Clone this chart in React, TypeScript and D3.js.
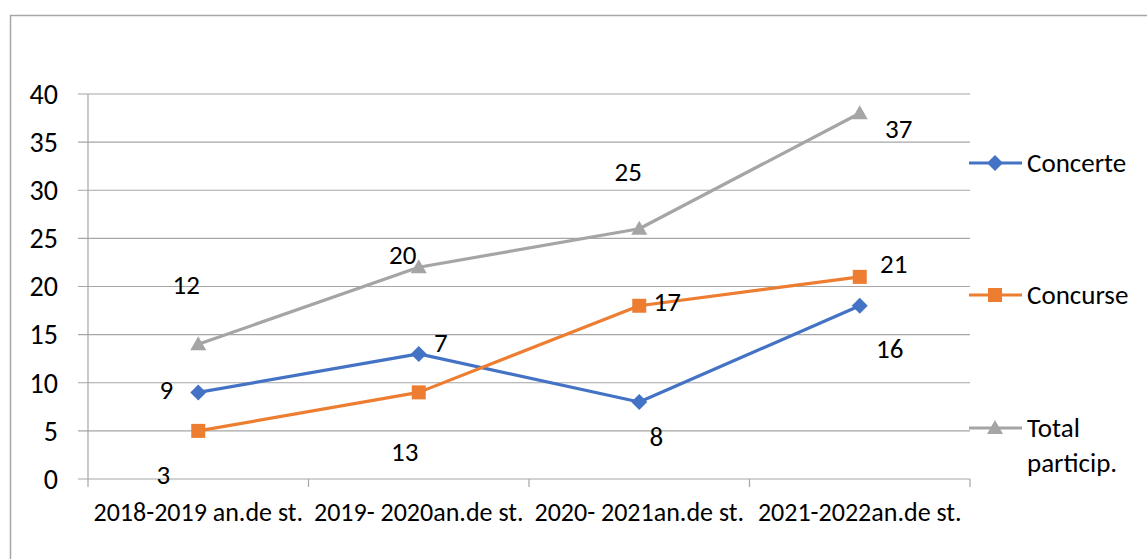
import * as d3 from "d3";

const categories = [
  "2018-2019 an.de st.",
  "2019- 2020an.de st.",
  "2020- 2021an.de st.",
  "2021-2022an.de st.",
];
const seriesNames = ["Concerte", "Concurse", "Total particip."];
const concerte = [9, 13, 8, 18];
const concurse = [5, 9, 18, 21];
const total = [14, 22, 26, 38];
// data labels as printed on the chart (they differ from the plotted points)
const concerteLabels = ["9", "7", "8", "16"];
const concurseLabels = ["3", "13", "17", "21"];
const totalLabels = ["12", "20", "25", "37"];
const yTicks = [0, 5, 10, 15, 20, 25, 30, 35, 40];

const colors = ["#4472C4", "#ED7D31", "#A5A5A5"];
const labelOffsets = [
  [[-32, -3], [22, -11], [17, 35], [30, 43]],
  [[-35, 44], [-14, 59], [28, -4], [34, -13]],
  [[-12, -60], [-16, -13], [-11, -57], [39, 15]],
];

const W = 1147;
const H = 559;
const left = 88;
const right = 970;
const top = 94;
const bottom = 479;
const font = "Calibri, Carlito, 'Open Sans', sans-serif";

function Marker({ kind, x, y, color }: { kind: number; x: number; y: number; color: string }) {
  if (kind === 0) {
    const s = 8;
    return <path d={`M${x},${y - s}L${x + s},${y}L${x},${y + s}L${x - s},${y}Z`} fill={color} />;
  }
  if (kind === 1) {
    return <rect x={x - 7} y={y - 7} width={14} height={14} fill={color} />;
  }
  const s = 8;
  return <path d={`M${x},${y - s}L${x + s},${y + s * 0.75}L${x - s},${y + s * 0.75}Z`} fill={color} />;
}

export default function App() {
  const x = d3.scaleBand().domain(categories).range([left, right]);
  const y = d3.scaleLinear().domain([0, 40]).range([bottom, top]);
  const series = [concerte, concurse, total];
  const labels = [concerteLabels, concurseLabels, totalLabels];
  const line = d3
    .line<number>()
    .x((_, i) => x(categories[i])! + x.bandwidth() / 2)
    .y((d) => y(d));
  const legendY = [163, 295, 428];

  return (
    <svg width={W} height={H} style={{ position: "absolute", left: 0, top: 0 }} fontFamily={font}>
      <rect x={0} y={0} width={W} height={H} fill="#fff" />
      <rect x={10.5} y={15.5} width={1140} height={560} fill="none" stroke="#a6a6a6" strokeWidth={1.5} />
      {yTicks.map((t) => (
        <g key={t}>
          <line x1={78} x2={right} y1={y(t)} y2={y(t)} stroke="#a6a6a6" strokeWidth={1.2} />
          <text x={58} y={y(t)} dy="0.35em" textAnchor="end" fontSize={28} fill="#000">
            {t}
          </text>
        </g>
      ))}
      <line x1={left} x2={left} y1={top} y2={bottom + 8} stroke="#a6a6a6" strokeWidth={1.2} />
      {categories.map((c, i) => (
        <line
          key={"t" + i}
          x1={x(c)! + x.bandwidth()}
          x2={x(c)! + x.bandwidth()}
          y1={bottom}
          y2={bottom + 8}
          stroke="#a6a6a6"
          strokeWidth={1.2}
        />
      ))}
      {categories.map((c) => (
        <text key={c} x={x(c)! + x.bandwidth() / 2} y={512} dy="0.35em" textAnchor="middle" fontSize={26} fill="#000">
          {c}
        </text>
      ))}
      {series.map((s, si) => (
        <g key={si}>
          <path d={line(s) || undefined} fill="none" stroke={colors[si]} strokeWidth={3.2} strokeLinejoin="round" />
          {s.map((v, i) => (
            <Marker
              key={i}
              kind={si}
              x={x(categories[i])! + x.bandwidth() / 2}
              y={y(v)}
              color={colors[si]}
            />
          ))}
        </g>
      ))}
      {series.map((s, si) =>
        s.map((v, i) => (
          <text
            key={`l${si}-${i}`}
            x={x(categories[i])! + x.bandwidth() / 2 + labelOffsets[si][i][0]}
            y={y(v) + labelOffsets[si][i][1]}
            dy="0.35em"
            textAnchor="middle"
            fontSize={27}
            fill="#000"
          >
            {labels[si][i]}
          </text>
        ))
      )}
      {seriesNames.map((n, si) => (
        <g key={n}>
          <line x1={969} x2={1022} y1={legendY[si]} y2={legendY[si]} stroke={colors[si]} strokeWidth={3.2} />
          <Marker kind={si} x={995} y={legendY[si]} color={colors[si]} />
          {si < 2 ? (
            <text x={1027} y={legendY[si]} dy="0.35em" fontSize={27} fill="#000">
              {n}
            </text>
          ) : (
            <text x={1027} y={legendY[si]} dy="0.35em" fontSize={27} fill="#000">
              <tspan x={1027}>Total</tspan>
              <tspan x={1027} dy={35}>particip.</tspan>
            </text>
          )}
        </g>
      ))}
    </svg>
  );
}
